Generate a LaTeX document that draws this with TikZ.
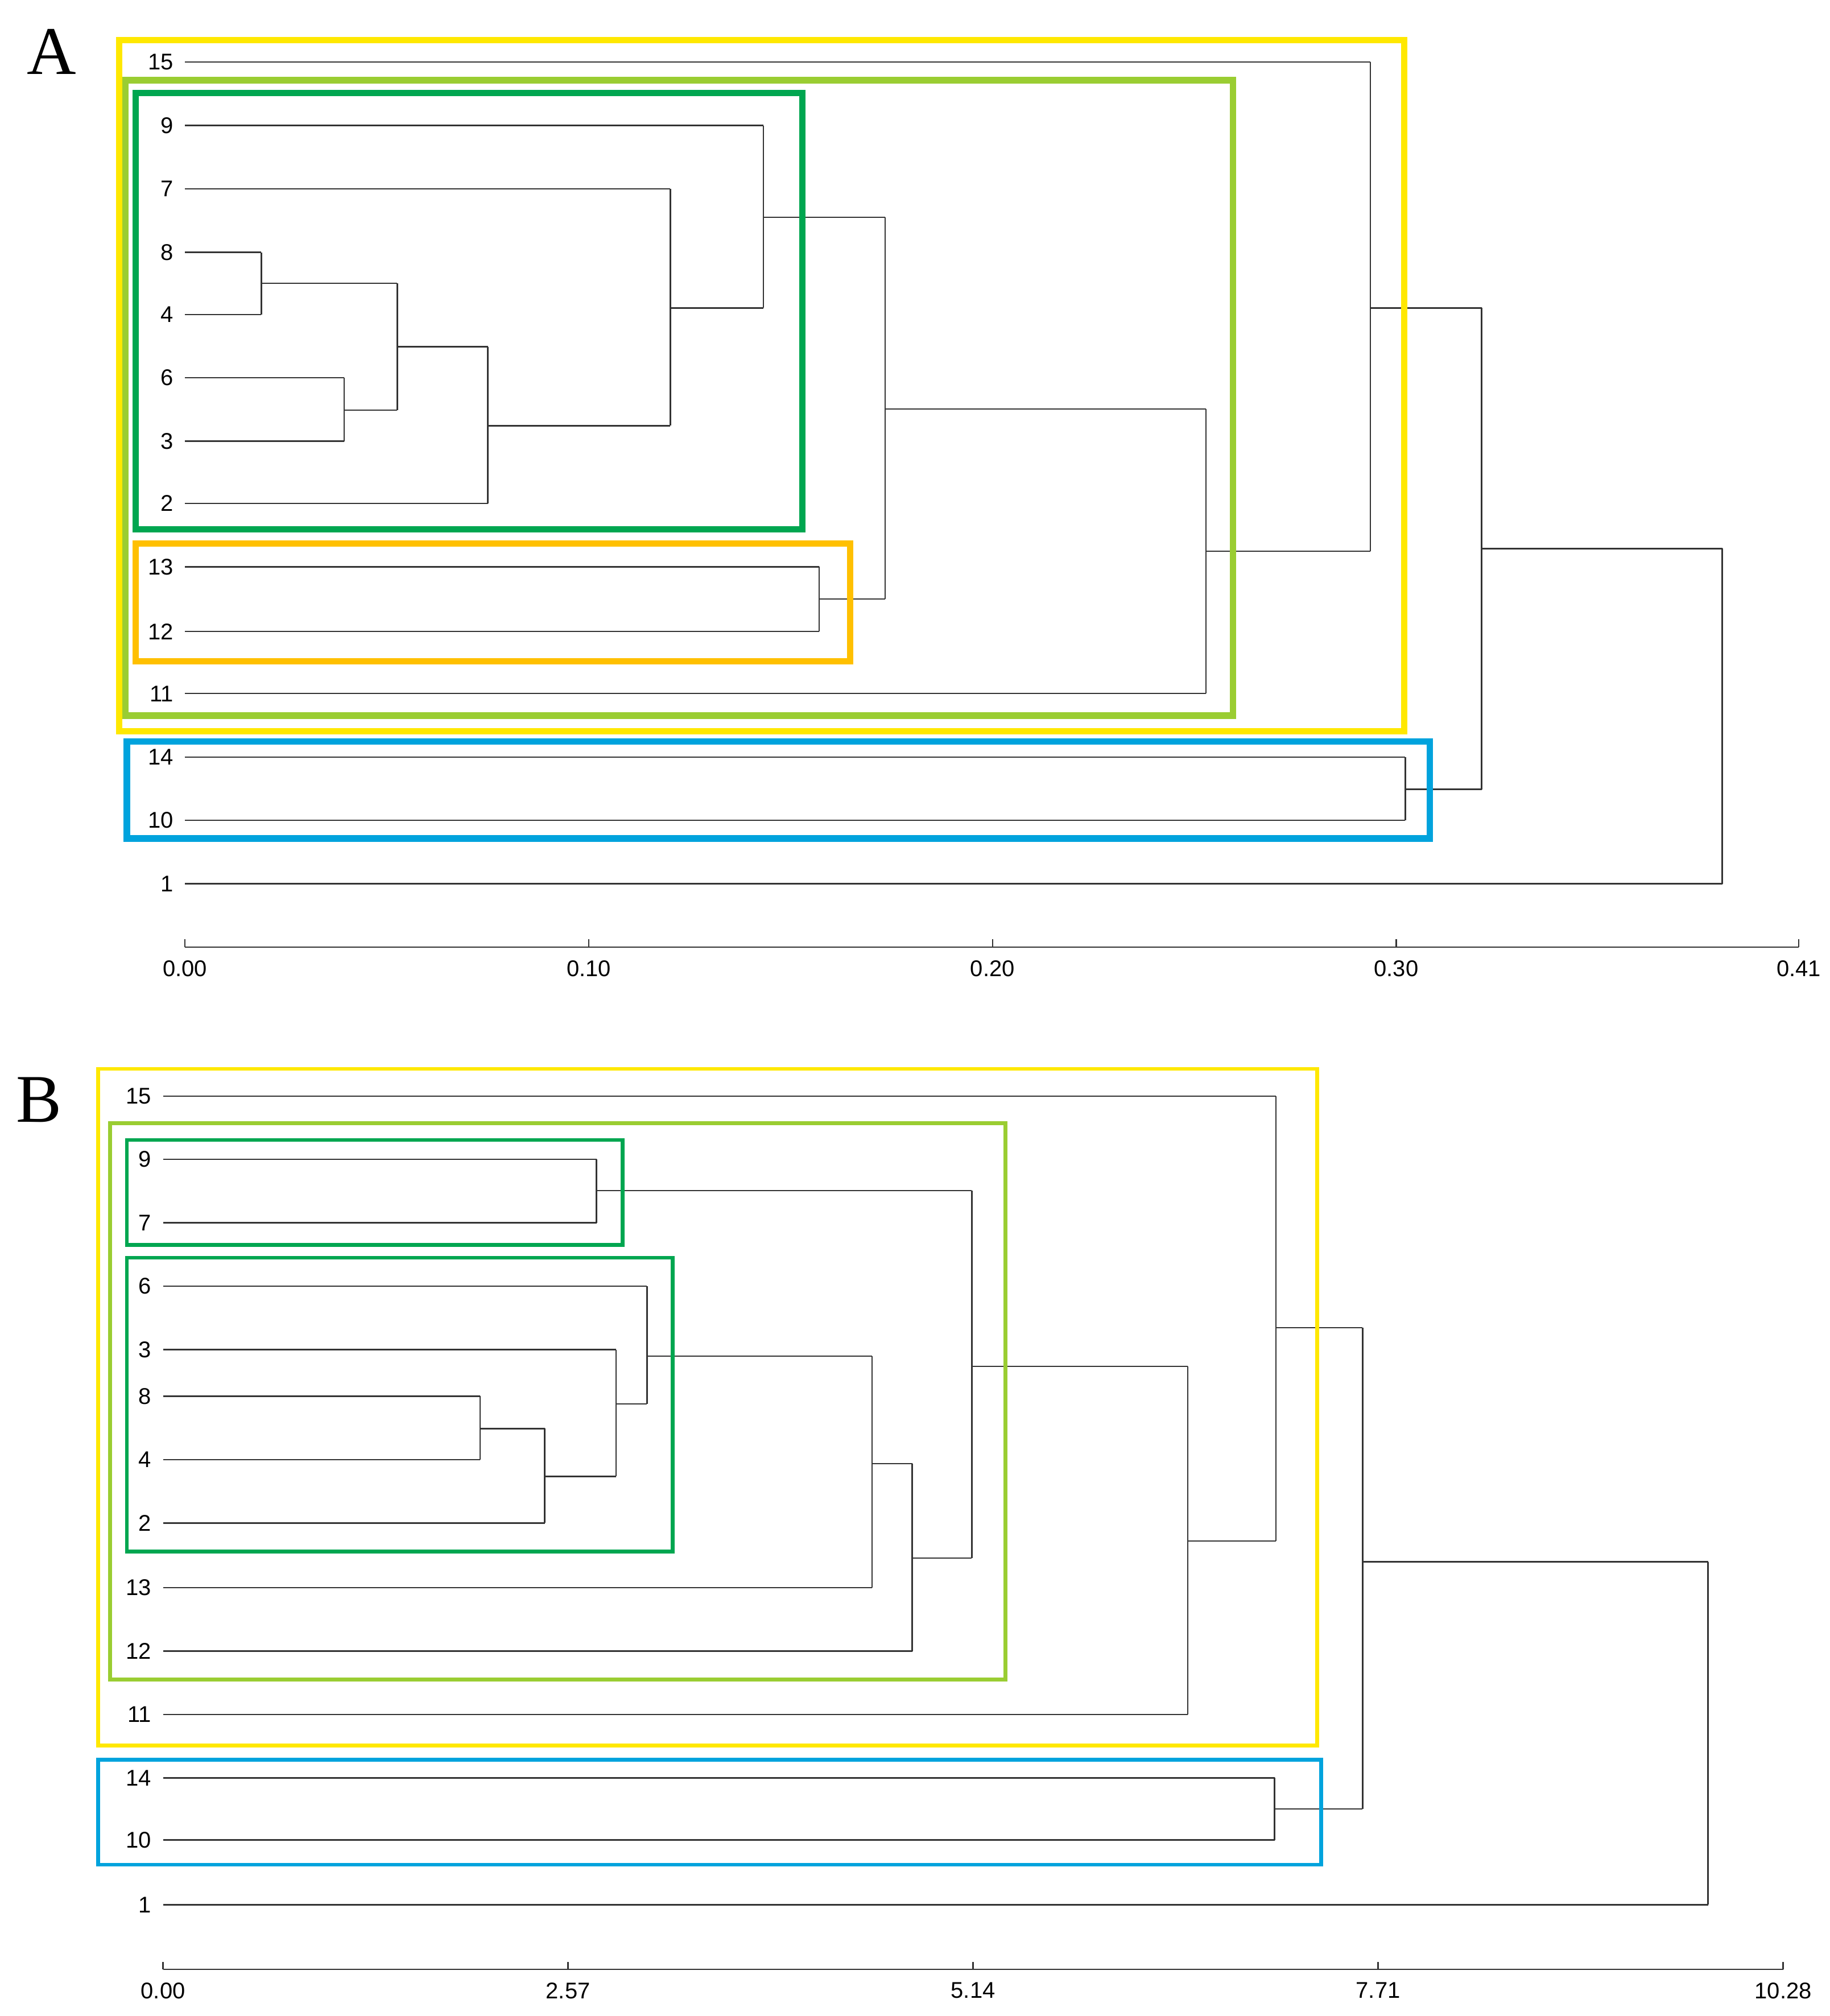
\documentclass[tikz,border=0pt]{standalone}
\usepackage{fontspec}
\setmainfont{Liberation Sans}
\newfontfamily\serifA{Liberation Serif}
\definecolor{cy}{HTML}{FFE800}
\definecolor{clg}{HTML}{9ACD32}
\definecolor{cg}{HTML}{00A650}
\definecolor{co}{HTML}{FFC000}
\definecolor{cb}{HTML}{00A3DD}
\begin{document}
\begin{tikzpicture}[x=0.02cm,y=-0.02cm,
  tr/.style={line width=0.6pt,black!80},
  lab/.style={anchor=east,font=\fontsize{10}{12}\selectfont,inner sep=1pt},
  tick/.style={anchor=north,font=\fontsize{10}{12}\selectfont,inner sep=1pt},
  bA/.style={line width=2.8pt},
  bB/.style={line width=1.7pt}]
\useasboundingbox (0,0) rectangle (1414,1558);
% ---------- Panel A ----------
\node[font=\serifA\fontsize{30}{32}\selectfont] (pa) at (40,40) {A};
\foreach \l/\y/\e in {15/48/1059,9/97/590,7/146/518,8/195/202,4/243/202,6/292/266,3/341/266,2/389/377,13/438/633,12/488/633,11/536/932,14/585/1086,10/634/1086,1/683/1331}{
  \node[lab] (a\l) at (136,\y) {\l};
  \draw[tr] (143,\y) -- (\e,\y);
}
\draw[tr] (202,195)--(202,243) (202,219)--(307,219);
\draw[tr] (266,292)--(266,341) (266,317)--(307,317);
\draw[tr] (307,219)--(307,317) (307,268)--(377,268);
\draw[tr] (377,268)--(377,389) (377,329)--(518,329);
\draw[tr] (518,146)--(518,329) (518,238)--(590,238);
\draw[tr] (590,97)--(590,238) (590,168)--(684,168);
\draw[tr] (633,438)--(633,488) (633,463)--(684,463);
\draw[tr] (684,168)--(684,463) (684,316)--(932,316);
\draw[tr] (932,316)--(932,536) (932,426)--(1059,426);
\draw[tr] (1059,48)--(1059,426) (1059,238)--(1145,238);
\draw[tr] (1086,585)--(1086,634) (1086,610)--(1145,610);
\draw[tr] (1145,238)--(1145,610) (1145,424)--(1331,424);
\draw[tr] (1331,424)--(1331,683);
\draw[tr] (143,732)--(1390,732);
\foreach \x/\t in {143/0.00,455/0.10,767/0.20,1079/0.30,1390/0.41}{
  \draw[tr] (\x,732)--(\x,726);
  \node[tick] (ta\x) at (\x,740) {\t};
}
\draw[cy,bA] (92,31) rectangle (1085,565);
\draw[clg,bA] (97,62) rectangle (953,553);
\draw[cg,bA] (105,72) rectangle (620,409);
\draw[co,bA] (105,420) rectangle (657,511);
\draw[cb,bA] (98,573) rectangle (1105,648);
% ---------- Panel B ----------
\node[font=\serifA\fontsize{30}{32}\selectfont] (pb) at (30,850) {B};
\foreach \l/\y/\e in {15/847/986,9/896/461,7/945/461,6/994/500,3/1043/476,8/1079/371,4/1128/371,2/1177/421,13/1227/674,12/1276/705,11/1325/918,14/1374/985,10/1422/985,1/1472/1320}{
  \node[lab] (b\l) at (119,\y) {\l};
  \draw[tr] (126,\y) -- (\e,\y);
}
\draw[tr] (461,896)--(461,945) (461,920)--(751,920);
\draw[tr] (371,1079)--(371,1128) (371,1104)--(421,1104);
\draw[tr] (421,1104)--(421,1177) (421,1141)--(476,1141);
\draw[tr] (476,1043)--(476,1141) (476,1085)--(500,1085);
\draw[tr] (500,994)--(500,1085) (500,1048)--(674,1048);
\draw[tr] (674,1048)--(674,1227) (674,1131)--(705,1131);
\draw[tr] (705,1131)--(705,1276) (705,1204)--(751,1204);
\draw[tr] (751,920)--(751,1204) (751,1056)--(918,1056);
\draw[tr] (918,1056)--(918,1325) (918,1191)--(986,1191);
\draw[tr] (986,847)--(986,1191) (986,1026)--(1053,1026);
\draw[tr] (985,1374)--(985,1422) (985,1398)--(1053,1398);
\draw[tr] (1053,1026)--(1053,1398) (1053,1207)--(1320,1207);
\draw[tr] (1320,1207)--(1320,1472);
\draw[tr] (126,1522)--(1378,1522);
\foreach \x/\t in {126/0.00,439/2.57,752/5.14,1065/7.71,1378/10.28}{
  \draw[tr] (\x,1522)--(\x,1516);
  \node[tick] (tb\x) at (\x,1530) {\t};
}
\draw[cy,bB] (76,826) rectangle (1018,1349);
\draw[clg,bB] (85,868) rectangle (777,1298);
\draw[cg,bB] (98,881) rectangle (481,962);
\draw[cg,bB] (98,972) rectangle (520,1199);
\draw[cb,bB] (76,1360) rectangle (1021,1441);
\end{tikzpicture}
\end{document}
